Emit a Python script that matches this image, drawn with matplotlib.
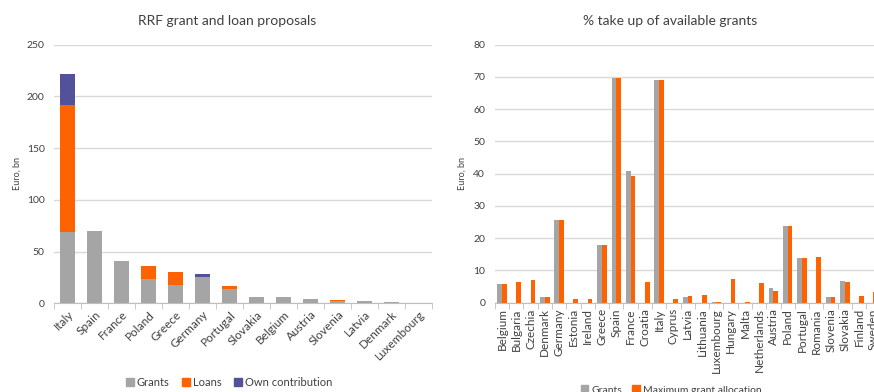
import numpy as np
import matplotlib
matplotlib.use('Agg')
import matplotlib.pyplot as plt
from matplotlib.patches import Patch

plt.rcParams['font.family'] = ['Lato', 'DejaVu Sans']

# Datos: propuestas RRF (izquierda)
rrf_countries = ['Italy', 'Spain', 'France', 'Poland', 'Greece', 'Germany', 'Portugal',
                 'Slovakia', 'Belgium', 'Austria', 'Slovenia', 'Latvia', 'Denmark', 'Luxembourg']
rrf_grants = [68.9, 69.5, 40.9, 23.9, 17.8, 25.6, 13.9, 6.3, 5.9, 4.5, 1.8, 1.8, 1.6, 0.5]
rrf_loans = [122.6, 0, 0, 12.1, 12.7, 0, 2.7, 0, 0, 0, 1.5, 0, 0, 0]
rrf_own = [30.6, 0, 0, 0, 0, 2.4, 0, 0, 0, 0, 0, 0, 0, 0]

# Datos: uso de subvenciones disponibles (derecha)
take_countries = ['Belgium', 'Bulgaria', 'Czechia', 'Denmark', 'Germany', 'Estonia', 'Ireland',
                  'Greece', 'Spain', 'France', 'Croatia', 'Italy', 'Cyprus', 'Latvia', 'Lithuania',
                  'Luxembourg', 'Hungary', 'Malta', 'Netherlands', 'Austria', 'Poland', 'Portugal',
                  'Romania', 'Slovenia', 'Slovakia', 'Finland', 'Sweden']
take_grants = [5.9, 0, 0, 1.6, 25.6, 0, 0, 17.8, 69.5, 40.9, 0, 68.9, 0, 1.8, 0,
               0.2, 0, 0, 0, 4.5, 23.9, 13.9, 0, 1.8, 6.6, 0, 0]
take_max = [5.9, 6.3, 7.1, 1.6, 25.6, 1.0, 1.0, 17.8, 69.5, 39.4, 6.3, 68.9, 1.0, 2.0, 2.2,
            0.2, 7.2, 0.3, 6.0, 3.5, 23.9, 13.9, 14.2, 1.8, 6.3, 2.1, 3.3]

GREY = '#A5A5A5'
ORANGE = '#FF6200'
PURPLE = '#525199'
TEXT = '#404040'
GRID = '#D9D9D9'


def style_axis(ax, n, ymax, step):
    ax.set_xlim(-0.5, n - 0.5)
    ax.set_ylim(0, ymax)
    ax.set_yticks(np.arange(0, ymax + 1, step))
    ax.yaxis.grid(True, color=GRID, linewidth=1)
    ax.set_axisbelow(True)
    for s in ['top', 'right', 'left']:
        ax.spines[s].set_visible(False)
    ax.spines['bottom'].set_color('#BFBFBF')
    ax.tick_params(axis='y', length=0, labelsize=7.5, labelcolor=TEXT, pad=7)
    ax.set_xticks(np.arange(n))
    ax.set_xticks(np.arange(n + 1) - 0.5, minor=True)
    ax.tick_params(axis='x', which='major', length=0, labelsize=8.5, labelcolor=TEXT, pad=4)
    ax.tick_params(axis='x', which='minor', length=4, color='#BFBFBF')


fig = plt.figure(figsize=(8.74, 3.92), dpi=100)

# Gráfico izquierdo
ax1 = fig.add_axes([0.0621, 0.2263, 0.4325, 0.6597])
x1 = np.arange(len(rrf_countries))
g = np.array(rrf_grants)
l = np.array(rrf_loans)
o = np.array(rrf_own)
w1 = 0.54
ax1.bar(x1, g, w1, color=GREY, label='Grants')
ax1.bar(x1, l, w1, bottom=g, color=ORANGE, label='Loans')
ax1.bar(x1, o, w1, bottom=g + l, color=PURPLE, label='Own contribution')
style_axis(ax1, len(rrf_countries), 250, 50)
ax1.set_xticklabels(rrf_countries, rotation=45, ha='right', rotation_mode='anchor')
ax1.set_ylabel('Euro, bn', fontsize=6.5, color=TEXT)
ax1.yaxis.set_label_coords(-0.085, 0.5)
fig.text(227 / 874, 1 - 21 / 392, 'RRF grant and loan proposals', ha='center', va='center',
         fontsize=10, color=TEXT)
fig.legend(handles=[Patch(color=GREY, label='Grants'), Patch(color=ORANGE, label='Loans'),
                    Patch(color=PURPLE, label='Own contribution')],
           loc='center', bbox_to_anchor=(229 / 874, 1 - 382 / 392), ncol=3, frameon=False,
           fontsize=8, handlelength=0.7, handleheight=0.7, handletextpad=0.3, columnspacing=1.1,
           labelcolor=TEXT)

# Gráfico derecho
ax2 = fig.add_axes([0.5662, 0.2281, 0.4414, 0.6582])
x2 = np.arange(len(take_countries))
w2 = 0.33
ax2.bar(x2 - w2 / 2, take_grants, w2, color=GREY, label='Grants')
ax2.bar(x2 + w2 / 2, take_max, w2, color=ORANGE, label='Maximum grant allocation')
style_axis(ax2, len(take_countries), 80, 10)
ax2.set_xticklabels(take_countries, rotation=90)
ax2.set_ylabel('Euro, bn', fontsize=6.5, color=TEXT)
ax2.yaxis.set_label_coords(-0.072, 0.5)
fig.text(670 / 874, 1 - 21 / 392, '% take up of available grants', ha='center', va='center',
         fontsize=10, color=TEXT)
fig.legend(handles=[Patch(color=GREY, label='Grants'),
                    Patch(color=ORANGE, label='Maximum grant allocation')],
           loc='center', bbox_to_anchor=(671 / 874, 1 - 390 / 392), ncol=2, frameon=False,
           fontsize=7.5, handlelength=0.7, handleheight=0.7, handletextpad=0.3, columnspacing=1.0,
           labelcolor=TEXT)

fig.savefig('out.png', dpi=100)
